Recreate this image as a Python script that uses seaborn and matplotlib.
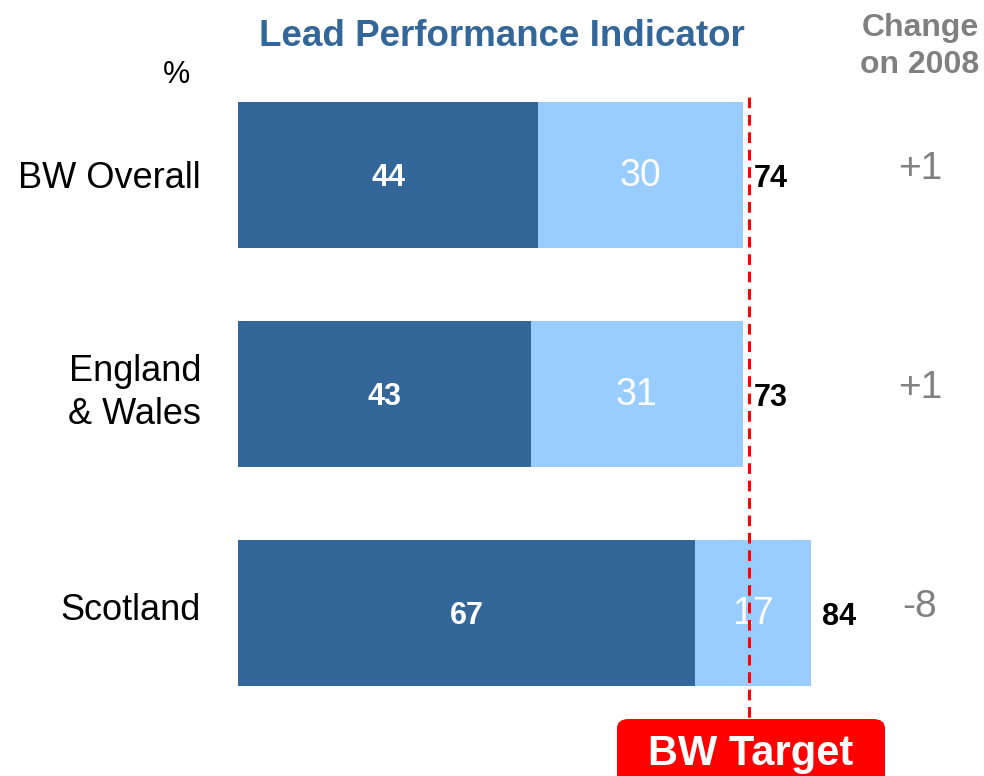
import matplotlib
matplotlib.use('Agg')
import matplotlib.pyplot as plt
import seaborn as sns
import pandas as pd
from matplotlib.patches import FancyBboxPatch

# chart values
regions = ['BW Overall', 'England\n& Wales', 'Scotland']
dark_vals = [44, 43, 67]
light_vals = [30, 31, 17]
totals = [74, 73, 84]
changes = ['+1', '+1', '-8']
target = 75

dark_col = '#336699'
light_col = '#99CCFF'
grey = '#808080'

sns.set_theme(style='white')
plt.rcParams['font.family'] = ['Liberation Sans', 'DejaVu Sans']

df = pd.DataFrame({'region': regions, 'dark': dark_vals, 'light': light_vals})
df['stack'] = df['dark'] + df['light']

fig = plt.figure(figsize=(9.84, 7.76), dpi=100)
ax = fig.add_axes([238 / 984, 0, (984 - 238) / 984, 1])

sns.barplot(data=df, x='stack', y='region', color=light_col, width=0.667,
            saturation=1, linewidth=0, ax=ax)
sns.barplot(data=df, x='dark', y='region', color=dark_col, width=0.667,
            saturation=1, linewidth=0, ax=ax)

px = 746 / 109.4   # pixels per percent
py = 219           # pixels per category step
ax.set_xlim(0, 109.4)
ax.set_ylim((776 - 175) / py, -175 / py)
for s in ax.spines.values():
    s.set_visible(False)
ax.set_xticks([])
ax.set_xlabel('')
ax.set_ylabel('')
ax.tick_params(axis='y', length=0)
ax.set_yticklabels([])

# category labels (pixel nudges to match the original)
cat_dy = [3, -1, -3]
for i, name in enumerate(regions):
    ax.text(-37 / px, i + cat_dy[i] / py, name, color='black', fontsize=26,
            ha='right', va='center', linespacing=1.28, clip_on=False)

for i in range(len(regions)):
    d, l = dark_vals[i], light_vals[i]
    ax.text(d / 2, i + 3 / py, str(d), color='white', fontsize=22, fontweight='bold',
            ha='center', va='center')
    ax.text(d + l / 2, i + 1 / py, str(l), color='white', fontsize=27,
            ha='center', va='center')
    ax.text(d + l + 1.7, i + 4 / py, str(totals[i]), color='black', fontsize=22,
            fontweight='bold', ha='left', va='center')
    ax.text((920 - 238) / px, i - 6 / py, changes[i], color=grey, fontsize=28,
            ha='center', va='center')

# target line
ax.plot([target, target], [(97 - 175) / py, (718 - 175) / py], color='red',
        lw=2.2, ls=(0, (3.5, 2.2)), zorder=5)

fig.text(502 / 984, 1 - 37 / 776, 'Lead Performance Indicator', color=dark_col,
         fontsize=26.5, fontweight='bold', ha='center', va='center')
fig.text(920 / 984, 1 - 28 / 776, 'Change', color=grey, fontsize=23,
         fontweight='bold', ha='center', va='center')
fig.text(920 / 984, 1 - 65 / 776, 'on 2008', color=grey, fontsize=23,
         fontweight='bold', ha='center', va='center')
fig.text(176 / 984, 1 - 75 / 776, '%', color='black', fontsize=22,
         ha='center', va='center')

box = FancyBboxPatch((617 / 984, -0.05), (885 - 617) / 984, (776 - 719) / 776 + 0.05,
                     boxstyle='round,pad=0,rounding_size=0.012',
                     transform=fig.transFigure, facecolor='red', edgecolor='none')
fig.patches.append(box)
fig.text(751 / 984, 1 - 754 / 776, 'BW Target', color='white', fontsize=30,
         fontweight='bold', ha='center', va='center')

fig.savefig('out.png', dpi=100)
